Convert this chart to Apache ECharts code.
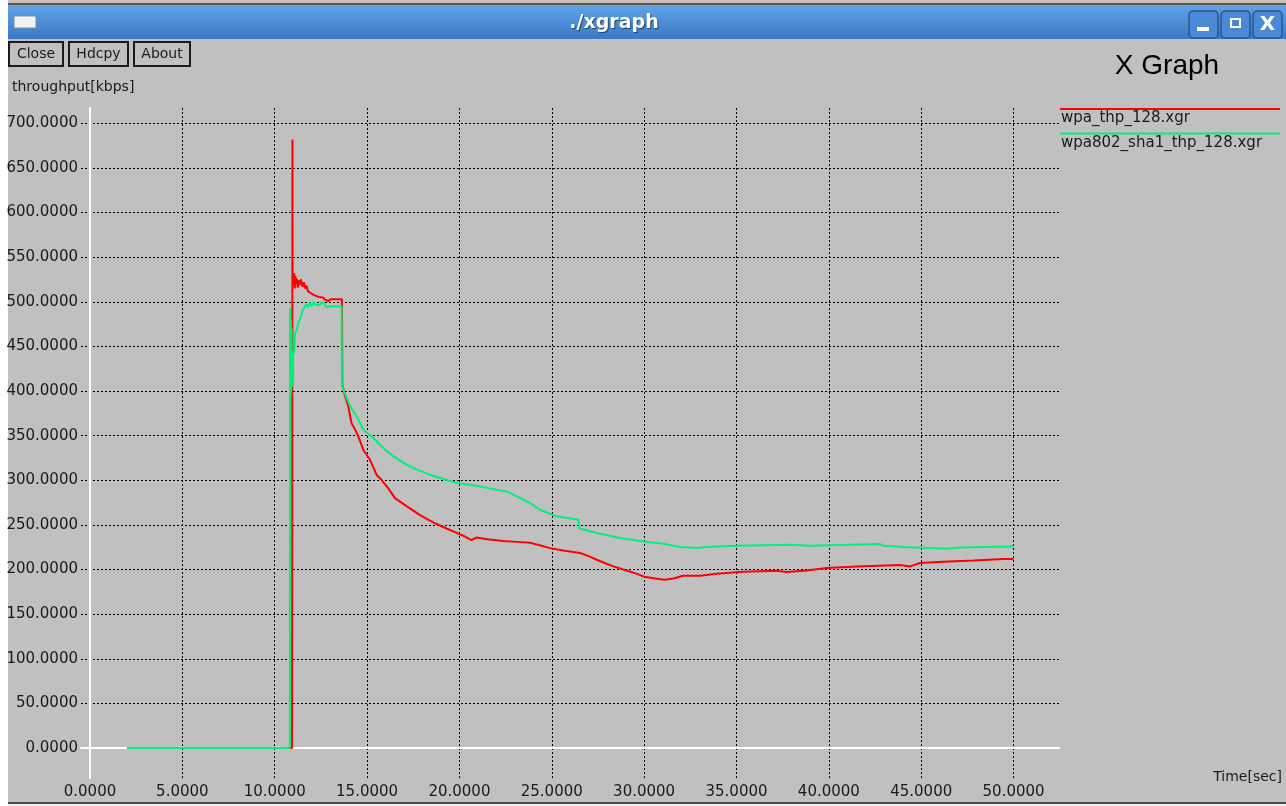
<!DOCTYPE html>
<html>
<head>
<meta charset="utf-8">
<title>./xgraph</title>
<script src="https://cdn.jsdelivr.net/npm/echarts@6/dist/echarts.min.js"></script>
<style>
  html, body { margin: 0; padding: 0; background: #ffffff; }
  #chart { width: 1286px; height: 806px; }
</style>
</head>
<body>
<div id="chart"></div>
<script>
// Axis ticks
const xTicks = [0, 5, 10, 15, 20, 25, 30, 35, 40, 45, 50];
const yTicks = [0, 50, 100, 150, 200, 250, 300, 350, 400, 450, 500, 550, 600, 650, 700];

// Data sets (time in seconds, throughput in kbps)
const seriesNames = ['wpa_thp_128.xgr', 'wpa802_sha1_thp_128.xgr'];

const wpaTime = [2.0, 10.94, 10.95, 10.96, 10.97, 11.00, 11.03, 11.06, 11.09, 11.12, 11.15, 11.20, 11.25, 11.30, 11.35,
  11.42, 11.50, 11.58, 11.65, 11.72, 11.80, 11.90, 12.00, 12.10, 12.20, 12.30, 12.45, 12.60, 12.75, 12.90, 13.00, 13.05,
  13.64, 13.66, 13.71, 13.80, 13.98, 14.16, 14.35, 14.53, 14.80, 15.16, 15.52, 15.80, 16.15, 16.51, 17.14, 17.87, 18.30,
  18.77, 19.30, 19.85, 20.30, 20.66, 20.93, 21.50, 22.38, 23.10, 23.82, 24.40, 24.90, 25.70, 26.53, 27.00, 27.43, 27.90,
  28.33, 28.87, 29.50, 30.00, 30.60, 31.10, 31.60, 32.10, 33.03, 33.93, 35.37, 37.18, 37.72, 38.80, 39.88, 41.50, 43.85,
  44.40, 44.94, 46.20, 47.82, 49.45, 50.00];
const wpaThp = [0, 0, 217, 682, 530, 527, 518, 532, 515, 529, 520, 526, 516, 524, 519,
  525, 517, 522, 515, 518, 512, 513, 509, 511, 507, 508, 505, 505, 502, 501, 501, 503,
  503, 407, 405, 395, 383, 364, 357, 349, 334, 323, 306, 300, 291, 280, 271, 261, 256,
  251, 246, 241, 237, 233, 236, 234, 232, 231, 230, 227, 224, 221, 218.5, 215, 211, 207,
  203.5, 200, 196, 192, 190, 188.5, 190, 193, 193, 195.3, 197.6, 198.7, 197.3, 199, 201.7, 203.5, 205,
  203.5, 207.3, 208.8, 210.2, 211.8, 211.8];

const sha1Time = [2.0, 10.82, 10.83, 10.85, 10.87, 10.89, 10.91, 10.93, 10.95, 11.00, 11.05, 11.10, 11.20, 11.30, 11.40,
  11.50, 11.60, 11.70, 11.80, 11.90, 12.00, 12.10, 12.20, 12.30, 12.40, 12.50, 12.60, 12.70, 12.80, 12.90, 13.00,
  13.62, 13.64, 13.71, 14.08, 14.44, 14.80, 15.34, 15.88, 16.42, 17.14, 17.69, 18.41, 19.13, 19.85, 20.93, 22.00,
  22.55, 23.10, 23.82, 24.36, 25.27, 26.44, 26.50, 27.43, 28.69, 29.96, 31.05, 31.94, 32.85, 33.38, 35.00, 37.90,
  38.98, 42.77, 42.95, 44.03, 46.38, 47.10, 49.80, 50.00];
const sha1Thp = [0, 0, 493, 420, 480, 398, 470, 405, 420, 445, 442, 465, 469, 478, 482,
  490, 491, 497, 494, 499, 495, 500, 497, 499, 496, 498, 500, 497, 494, 493, 495,
  495, 407, 401.5, 383, 371.6, 356.7, 347.4, 336.2, 326.8, 317.5, 311.9, 306.3, 301.5, 297, 294, 289.5,
  287.6, 282, 274.6, 267, 259.6, 255.9, 246, 241, 235.3, 231.5, 229, 225.3, 224.1, 225.3, 226.7, 227.8,
  226.7, 228.6, 226.7, 225.3, 223.4, 224.8, 225.9, 226.7];

const lineColors = ['#ff0000', '#00f07a'];

const pairs = (t, v) => t.map((x, i) => [x, v[i]]);

const FONT = 'DejaVu Sans';
const TEXT = '#1a1a1a';

// Window frame, buttons and captions
function button(x, y, w, h, label) {
  return [
    { type: 'rect', shape: { x: x, y: y, width: w, height: h },
      style: { fill: 'transparent', stroke: '#1a1a1a', lineWidth: 2 } },
    { type: 'text', x: x + w / 2, y: y + h / 2,
      style: { text: label, fill: TEXT, font: '14px "DejaVu Sans"', align: 'center', verticalAlign: 'middle' } }
  ];
}

function winButton(x, glyph) {
  const els = [
    { type: 'rect', shape: { x: x, y: 11, width: 29, height: 27, r: 4 },
      style: { fill: '#4a8ad4', stroke: '#24578f', lineWidth: 1.5 } }
  ];
  if (glyph === 'min') {
    els.push({ type: 'rect', shape: { x: x + 8, y: 27, width: 12, height: 4 }, style: { fill: '#ffffff' } });
  } else if (glyph === 'max') {
    els.push({ type: 'rect', shape: { x: x + 10, y: 19, width: 9, height: 8 },
      style: { fill: 'transparent', stroke: '#ffffff', lineWidth: 2 } });
  } else {
    els.push({ type: 'text', x: x + 14.5, y: 25,
      style: { text: 'X', fill: '#ffffff', font: 'bold 20px "DejaVu Sans"', align: 'center', verticalAlign: 'middle' } });
  }
  return els;
}

const frame = [].concat(
  [
    { type: 'rect', shape: { x: 0, y: 0, width: 8, height: 806 }, style: { fill: '#ffffff' } },
    { type: 'rect', shape: { x: 8, y: 0, width: 1278, height: 3 }, style: { fill: '#c9c3bb' } },
    { type: 'rect', shape: { x: 8, y: 3, width: 1278, height: 2 }, style: { fill: '#5e544c' } },
    { type: 'rect', shape: { x: 8, y: 5, width: 1278, height: 34 },
      style: { fill: new echarts.graphic.LinearGradient(0, 0, 0, 1, [
        { offset: 0, color: '#62a3e6' }, { offset: 1, color: '#3a79c6' }]) } },
    { type: 'rect', shape: { x: 14, y: 16, width: 22, height: 12 },
      style: { fill: '#f2f2f2', stroke: '#7d8ea3', lineWidth: 1 } },
    { type: 'text', x: 614, y: 23,
      style: { text: './xgraph', fill: '#ffffff', font: 'bold 19px "DejaVu Sans"', align: 'center', verticalAlign: 'middle',
        textShadowColor: 'rgba(0,0,0,0.55)', textShadowOffsetX: 1, textShadowOffsetY: 1, textShadowBlur: 1 } },
    { type: 'rect', shape: { x: 8, y: 802, width: 1278, height: 2 }, style: { fill: '#4a4a4a' } },
    { type: 'rect', shape: { x: 8, y: 804, width: 1278, height: 2 }, style: { fill: '#f0f0f0' } },
    { type: 'text', x: 12, y: 87,
      style: { text: 'throughput[kbps]', fill: TEXT, font: '14px "DejaVu Sans"', align: 'left', verticalAlign: 'middle' } },
    { type: 'text', x: 1167, y: 66,
      style: { text: 'X Graph', fill: '#000000', font: '28px "Liberation Sans"', align: 'center', verticalAlign: 'middle' } },
    { type: 'text', x: 1282, y: 777,
      style: { text: 'Time[sec]', fill: TEXT, font: '14px "DejaVu Sans"', align: 'right', verticalAlign: 'middle' } }
  ],
  winButton(1189, 'min'), winButton(1221, 'max'), winButton(1253, 'close'),
  button(9, 42, 54, 24, 'Close'), button(69, 42, 59, 24, 'Hdcpy'), button(134, 42, 56, 24, 'About')
);

// Legend: colored rule above each set name
seriesNames.forEach((name, i) => {
  const y = 109 + i * 24.5;
  frame.push(
    { type: 'rect', shape: { x: 1060, y: y - 1, width: 220, height: 2 }, style: { fill: lineColors[i] } },
    { type: 'text', x: 1061, y: y + 9.5,
      style: { text: name, fill: TEXT, font: '15px "DejaVu Sans"', align: 'left', verticalAlign: 'middle' } }
  );
});

const gridDash = { color: '#000000', width: 1, type: [2, 2] };

const option = {
  backgroundColor: '#c0c0c0',
  animation: false,
  graphic: { elements: frame },
  grid: { left: 81, right: 227, top: 108, bottom: 28, containLabel: false, outerBoundsMode: 'none' },
  xAxis: {
    type: 'value',
    min: -0.487,
    max: 52.46,
    axisLine: { show: true, onZero: true, lineStyle: { color: '#ffffff', width: 2 } },
    axisTick: { show: false, customValues: xTicks.filter(v => v !== 0) },
    axisLabel: {
      customValues: xTicks, hideOverlap: false,
      formatter: v => v.toFixed(4), margin: 7,
      color: TEXT, fontFamily: FONT, fontSize: 15
    },
    splitLine: { show: true, lineStyle: gridDash }
  },
  yAxis: {
    type: 'value',
    min: -33.6,
    max: 717.2,
    axisLine: { show: true, onZero: true, lineStyle: { color: '#ffffff', width: 2 } },
    axisTick: { show: false, customValues: yTicks.filter(v => v !== 0) },
    axisLabel: {
      customValues: yTicks, hideOverlap: false,
      formatter: v => v.toFixed(4), margin: 3,
      color: TEXT, fontFamily: FONT, fontSize: 15
    },
    splitLine: { show: true, lineStyle: gridDash }
  },
  series: [
    { name: seriesNames[0], type: 'line', data: pairs(wpaTime, wpaThp), showSymbol: false,
      lineStyle: { color: lineColors[0], width: 2 }, itemStyle: { color: lineColors[0] } },
    { name: seriesNames[1], type: 'line', data: pairs(sha1Time, sha1Thp), showSymbol: false,
      lineStyle: { color: lineColors[1], width: 2 }, itemStyle: { color: lineColors[1] } }
  ]
};

const chart = echarts.init(document.getElementById('chart'), null, { renderer: 'canvas' });
chart.setOption(option);
</script>
</body>
</html>
